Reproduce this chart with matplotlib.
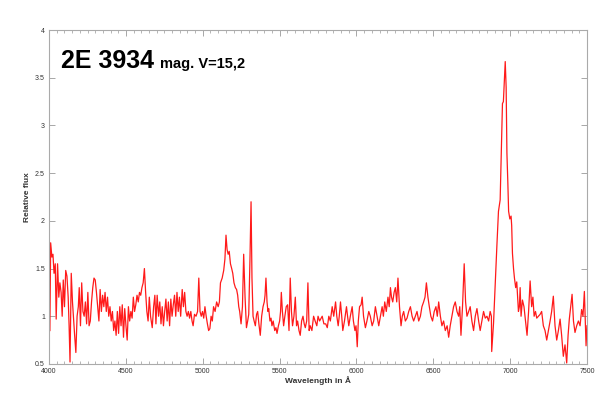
import numpy as np
import matplotlib
matplotlib.use("Agg")
import matplotlib.pyplot as plt
from matplotlib.ticker import MultipleLocator

# spectrum, split into pieces (wavelength in A, relative flux)
wl_blue = [4005, 4010, 4018, 4025, 4032, 4040, 4046, 4055, 4063, 4070, 4078, 4085, 4092, 4100,
           4108, 4116, 4124, 4130, 4136, 4144, 4152, 4160, 4166, 4174, 4182, 4190, 4196, 4204,
           4212, 4220, 4228, 4236, 4244, 4252, 4260, 4268, 4276, 4284, 4292, 4300, 4308, 4316,
           4324, 4332, 4340, 4348, 4356, 4364, 4372, 4380, 4388, 4396, 4404, 4412, 4420, 4428,
           4436, 4444, 4452, 4460, 4468, 4476, 4484, 4492, 4500, 4508, 4516, 4524, 4532, 4540,
           4548, 4556, 4564, 4572, 4580, 4588, 4596, 4604, 4612, 4620, 4628]
fx_blue = [0.85, 1.77, 1.62, 1.65, 1.45, 1.55, 0.97, 1.55, 1.2, 1.35, 1.25, 1.0, 1.38, 1.1,
           1.48, 1.42, 1.2, 0.9, 0.52, 1.45, 1.15, 0.95, 0.8, 0.62, 1.0, 1.1, 1.3, 0.9,
           1.35, 1.05, 1.0, 1.15, 0.92, 1.25, 0.9, 0.95, 1.15, 1.3, 1.4, 1.38, 1.25, 1.1,
           0.95, 1.28, 1.05, 1.22, 1.1, 1.25, 1.05, 1.2, 1.0, 1.1, 0.95, 1.05, 0.85, 0.95,
           0.8, 1.05, 0.82, 1.1, 0.9, 1.12, 0.78, 1.08, 0.9, 0.75, 1.1, 0.95, 1.05, 0.98,
           1.2, 1.05, 1.12, 1.22, 1.15, 1.25, 1.22, 1.3, 1.35, 1.5, 1.25]

wl_mid = [4636, 4644, 4652, 4660, 4671, 4680, 4688, 4695, 4703, 4712, 4720, 4728, 4736, 4744,
          4752, 4760, 4768, 4776, 4784, 4792, 4800, 4808, 4816, 4824, 4832, 4840, 4848, 4856,
          4866, 4874, 4882, 4890, 4898, 4906, 4914, 4922, 4930, 4937, 4946, 4956, 4966, 4974,
          4982, 4990, 4998, 5006, 5014, 5022, 5030, 5038, 5046, 5054, 5062, 5070, 5080, 5090,
          5100, 5108, 5115, 5126, 5136, 5144, 5151, 5158, 5165, 5172, 5180, 5188, 5195, 5203,
          5212, 5220, 5227, 5234, 5240, 5249, 5258, 5266, 5275, 5284, 5292, 5299, 5307, 5314,
          5320, 5327, 5334, 5342, 5350, 5357, 5365, 5374, 5383, 5392, 5400, 5405, 5411, 5418,
          5424, 5429, 5437, 5444, 5450, 5458, 5468, 5476, 5483, 5492, 5500, 5506, 5511, 5518,
          5526, 5534, 5543, 5552, 5561, 5569, 5577, 5584, 5593, 5602, 5610, 5617, 5626, 5634,
          5643, 5652, 5660, 5667, 5676, 5684, 5692, 5699, 5710, 5721, 5731, 5742, 5750, 5760]
fx_mid = [1.05, 0.95, 1.2, 1.0, 0.88, 1.1, 1.22, 0.92, 1.22, 1.0, 1.15, 0.92, 1.1, 0.9,
          1.05, 1.18, 0.95, 1.15, 0.9, 1.18, 1.0, 1.12, 1.22, 1.0, 1.25, 1.05, 1.2, 1.0,
          1.28, 1.1, 1.25, 1.05, 1.0, 1.05, 0.98, 1.05, 0.95, 0.9, 1.02, 1.0, 1.05, 1.4,
          1.05, 1.0, 1.05, 0.98, 1.1, 1.0, 0.92, 0.85, 0.87, 1.0, 0.95, 1.1, 1.05, 1.15,
          1.1, 1.15, 1.35, 1.4, 1.48, 1.6, 1.85, 1.7, 1.65, 1.68, 1.55, 1.5, 1.45, 1.35,
          1.3, 1.28, 1.22, 1.1, 1.05, 0.92, 1.1, 1.65, 1.2, 0.88, 0.95, 1.02, 1.6, 2.2,
          1.4, 1.0, 0.95, 0.9, 1.02, 1.05, 0.92, 0.8, 1.0, 1.1, 1.15, 1.22, 1.4, 1.15,
          1.05, 1.08, 0.95, 0.98, 0.9, 0.95, 0.85, 0.88, 0.82, 0.9, 0.95, 1.05, 1.25, 1.05,
          0.9, 1.0, 1.1, 1.12, 0.85, 1.4, 1.05, 0.9, 1.0, 1.2, 0.9, 0.95, 0.85, 0.8,
          0.95, 1.0, 0.92, 0.88, 0.95, 1.35, 0.85, 0.9, 0.85, 1.0, 0.95, 0.9, 1.0, 0.95]

wl_red = [5777, 5788, 5800, 5810, 5820, 5830, 5842, 5852, 5864, 5872, 5881, 5888, 5896, 5904,
          5911, 5922, 5935, 5942, 5950, 5960, 5972, 5980, 5990, 5997, 6005, 6012, 6020, 6030,
          6037, 6046, 6058, 6068, 6080, 6090, 6102, 6112, 6123, 6134, 6145, 6156, 6167, 6175,
          6184, 6194, 6205, 6213, 6221, 6228, 6236, 6245, 6253, 6262, 6270, 6280, 6290, 6298,
          6307, 6318, 6329, 6340, 6351, 6362, 6372, 6383, 6394, 6405, 6416, 6426, 6437, 6446,
          6455, 6465, 6474, 6484, 6495, 6506, 6517, 6526, 6535, 6546, 6556, 6567, 6578, 6590,
          6600, 6610, 6621, 6632, 6643, 6654, 6665, 6672, 6680, 6690, 6701, 6710, 6719, 6730,
          6740, 6751, 6762, 6773, 6784, 6795, 6805, 6816, 6827, 6838, 6849, 6860, 6870, 6878]
fx_red = [1.0, 0.92, 0.92, 0.88, 1.0, 0.95, 1.1, 1.0, 1.15, 1.0, 0.9, 1.0, 1.15, 1.0,
          0.85, 0.95, 1.1, 1.0, 0.9, 1.0, 1.1, 0.95, 0.85, 0.9, 0.68, 0.95, 1.1, 1.12,
          1.2, 1.0, 0.88, 0.95, 1.05, 1.0, 0.9, 0.95, 1.1, 1.0, 0.9, 1.0, 1.1, 1.0,
          1.15, 1.05, 1.2, 1.1, 1.3, 1.2, 1.15, 1.25, 1.3, 1.15, 1.4, 1.1, 0.9, 1.0,
          1.05, 0.95, 0.98, 1.05, 1.1, 1.0, 0.95, 1.0, 1.05, 0.95, 1.0, 1.1, 1.15, 1.2,
          1.35, 1.2, 1.1, 1.0, 0.95, 1.05, 1.1, 1.0, 1.15, 1.0, 0.9, 0.95, 0.85, 0.9,
          0.78, 0.9, 1.0, 1.1, 1.15, 1.05, 1.0, 1.1, 0.8, 1.1, 1.55, 1.15, 1.0, 1.05,
          1.1, 0.95, 0.85, 1.0, 1.08, 0.95, 0.85, 0.95, 1.05, 0.98, 1.0, 0.95, 1.05, 1.0]

# H-alpha region and the red end
wl_halpha = [6880, 6892, 6903, 6914, 6924, 6935, 6944, 6950, 6956, 6962, 6968, 6974, 6979, 6985,
             6990, 6998, 7006, 7010, 7015, 7022, 7028, 7036, 7043, 7050, 7054, 7060, 7065, 7071,
             7080, 7090, 7100, 7110, 7120, 7130, 7140, 7148, 7156, 7165, 7173, 7184, 7195, 7205,
             7216, 7227, 7238, 7249, 7260, 7270, 7281, 7292, 7303, 7314, 7325, 7335, 7346, 7357,
             7368, 7377, 7385, 7394, 7403, 7412, 7422, 7433, 7444, 7455, 7465, 7474, 7483, 7490,
             7494, 7500]
fx_halpha = [0.63, 0.93, 1.35, 1.75, 2.1, 2.22, 2.8, 3.23, 3.25, 3.45, 3.67, 3.4, 2.71, 2.4,
             2.1, 2.02, 2.05, 1.95, 1.66, 1.5, 1.4, 1.3, 1.36, 1.15, 1.05, 1.1, 1.3, 1.0,
             1.17, 1.1, 0.95, 0.8, 1.05, 1.37, 1.1, 1.2, 1.0, 1.05, 0.98, 1.0, 1.02, 1.05,
             0.9, 0.85, 0.75, 0.85, 0.95, 1.05, 1.21, 0.9, 0.75, 0.85, 0.97, 0.8, 0.58, 0.7,
             0.51, 0.8, 0.97, 1.1, 1.23, 0.95, 0.83, 0.9, 0.95, 0.9, 1.07, 1.0, 1.26, 0.9,
             0.69, 0.9]

wavelength = np.array(wl_blue + wl_mid + wl_red + wl_halpha)
flux = np.array(fx_blue + fx_mid + fx_red + fx_halpha)

plt.rcParams['font.family'] = ['Liberation Sans', 'DejaVu Sans']

fig = plt.figure(figsize=(6.14, 3.96), dpi=100)
ax = fig.add_axes([0.080, 0.081, 0.876, 0.843])

ax.plot(wavelength, flux, color='#ff1a1a', lw=0.9)

ax.set_xlim(4000, 7500)
ax.set_ylim(0.5, 4)
ax.xaxis.set_major_locator(MultipleLocator(500))
ax.xaxis.set_minor_locator(MultipleLocator(50))
ax.set_yticks([0.5, 1, 1.5, 2, 2.5, 3, 3.5, 4], ['0.5', '1', '1.5', '2', '2.5', '3', '3.5', '4'])

ax.tick_params(which='both', direction='in', top=True, right=True, color='#999999',
               labelsize=5, labelcolor='#333333')
ax.tick_params(axis='x', pad=3)
ax.tick_params(axis='y', pad=3)
ax.tick_params(which='major', length=4, width=0.6)
ax.tick_params(which='minor', length=2, width=0.5)
for s in ax.spines.values():
    s.set_color('#aaaaaa')
    s.set_linewidth(0.8)

ax.set_xlabel('Wavelength in Å', fontsize=6, fontweight='bold', color='#333333', labelpad=1)
ax.set_ylabel('Relative flux', fontsize=6, fontweight='bold', color='#333333', labelpad=3)

ax.text(4076, 3.6, '2E 3934', fontsize=18, fontweight='bold', ha='left', va='baseline')
ax.text(4722, 3.6, 'mag. V=15,2', fontsize=10.5, fontweight='bold', ha='left', va='baseline')

fig.savefig('out.png', dpi=100)
